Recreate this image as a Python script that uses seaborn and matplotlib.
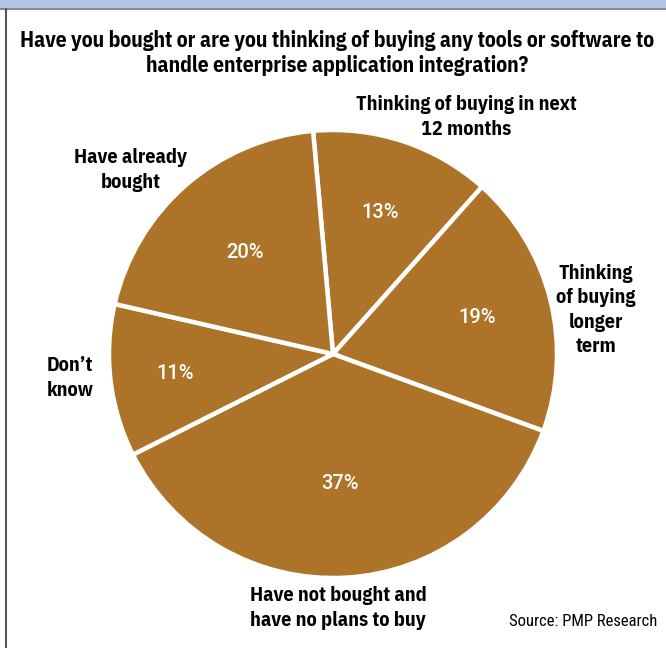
import matplotlib
matplotlib.use("Agg")
import matplotlib.pyplot as plt
import seaborn as sns
import numpy as np

# Survey answers, clockwise from the top
categories = [
    "Thinking of buying in next\n12 months",
    "Thinking\nof buying\nlonger\nterm",
    "Have not bought and\nhave no plans to buy",
    "Don\u2019t\nknow",
    "Have already\nbought",
]
shares = [13, 19, 37, 11, 20]
title = ("Have you bought or are you thinking of buying any tools or software to\n"
         "handle enterprise application integration?")
source = "Source: PMP Research"

sns.set_theme(style="white")
plt.rcParams["font.family"] = ["Roboto Condensed", "DejaVu Sans"]
heading = ["IBM Plex Sans Condensed", "Roboto Condensed", "DejaVu Sans"]

W, H = 666, 648
fig = plt.figure(figsize=(W / 100, H / 100), dpi=100)
ax = fig.add_axes([0, 0, 1, 1])

colors = sns.color_palette(["#ad7429"] * len(shares))
cx, cy, R = 333, H - 354, 224
wedges, _ = ax.pie(
    shares, colors=colors, startangle=95.1, counterclock=False,
    center=(cx, cy), radius=R, frame=True,
    wedgeprops=dict(edgecolor="white", linewidth=3.2),
)
ax.set_xlim(0, W)
ax.set_ylim(0, H)
ax.set_aspect("auto")
ax.axis("off")

# percentage labels placed along each wedge's bisector
pct_dist = [0.665, 0.665, 0.58, 0.71, 0.60]
for w, v, d in zip(wedges, shares, pct_dist):
    mid = np.deg2rad((w.theta1 + w.theta2) / 2)
    ax.text(cx + d * R * np.cos(mid), cy + d * R * np.sin(mid), f"{v}%",
            ha="center", va="center", color="white", fontsize=14.5,
            fontweight="medium", family=["Roboto", "DejaVu Sans"])

# outer category labels
label_xy = [(466, H - 117), (596, H - 310), (338, H - 608), (70, H - 378), (131, H - 170)]
for (x, y), text in zip(label_xy, categories):
    ax.text(x, y, text, ha="center", va="center", fontsize=14.5, fontweight="bold",
            color="black", linespacing=1.37, family=heading)

fig.text(337 / W, 1 - 53 / H, title, ha="center", va="center", fontsize=15.5,
         fontweight="bold", color="black", linespacing=1.28, family=heading)
fig.text(657 / W, 1 - 621 / H, source, ha="right", va="center", fontsize=12,
         color="black")

# header strip and frame edge
ax.add_patch(plt.Rectangle((0, H - 8), W, 8, color="#b5c5e5", lw=0, zorder=5))
ax.plot([0, W], [H - 8.5, H - 8.5], color="#8a8a8a", lw=1.5, zorder=6)
ax.plot([6, 6], [0, H - 9], color="#555555", lw=1.5, zorder=6)

fig.savefig("out.png", dpi=100, facecolor="white")
